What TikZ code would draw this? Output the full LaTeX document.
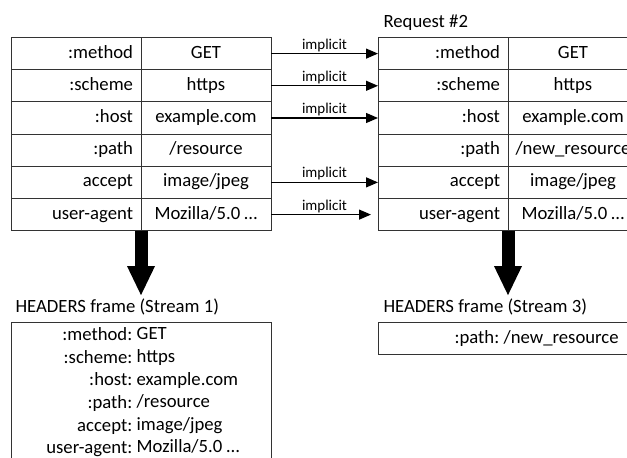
\documentclass[tikz,border=0pt]{standalone}
\usepackage{fontspec}
\setmainfont{Carlito}
\usepackage{tikz}
\usetikzlibrary{arrows.meta, positioning, calc}
\definecolor{LineGray}{HTML}{333333}

\begin{document}
\begin{tikzpicture}[
    x=1pt, y=1pt, >=Stealth, font=\fontsize{18.7}{22.6}\selectfont,
    keycell/.style={draw=LineGray, line width=0.9pt, outer sep=0pt, minimum height=32.2pt,
      inner xsep=8pt, text width=114pt, align=right, text height=13pt, text depth=4pt},
    valcell/.style={draw=LineGray, line width=0.9pt, outer sep=0pt, minimum height=32.2pt,
      minimum width=130pt, inner xsep=0pt, text height=13pt, text depth=4pt},
    implicit/.style={line width=1.2pt, -{Triangle[length=12pt,width=10pt]}},
    lbl/.style={above, font=\fontsize{15}{16}\selectfont, inner sep=1.5pt},
    bigarrow/.style={line width=13pt, -{Triangle[length=29pt,width=28pt,line width=0pt]}},
    framebox/.style={draw=LineGray, line width=0.9pt, minimum width=260pt, anchor=north west, outer sep=0pt},
  ]
  \useasboundingbox (0,0) rectangle (627,458);
  \clip (0,0) rectangle (627,458);
  % Request #1
  \node[keycell] (a1) at (76,404.4) {:method};
  \node[keycell, below=0pt of a1] (a2) {:scheme};
  \node[keycell, below=0pt of a2] (a3) {:host};
  \node[keycell, below=0pt of a3] (a4) {:path};
  \node[keycell, below=0pt of a4] (a5) {accept};
  \node[keycell, below=0pt of a5] (a6) {user-agent};
  \node[valcell, right=0pt of a1] (b1) {GET};
  \node[valcell, right=0pt of a2] (b2) {https};
  \node[valcell, right=0pt of a3] (b3) {example.com};
  \node[valcell, right=0pt of a4] (b4) {/resource};
  \node[valcell, right=0pt of a5] (b5) {image/jpeg};
  \node[valcell, right=0pt of a6] (b6) {Mozilla/5.0 …};
  % Request #2
  \node[anchor=base west] (r2) at (380,430) {Request \#2};
  \node[keycell] (c1) at (443,404.4) {:method};
  \node[keycell, below=0pt of c1] (c2) {:scheme};
  \node[keycell, below=0pt of c2] (c3) {:host};
  \node[keycell, below=0pt of c3] (c4) {:path};
  \node[keycell, below=0pt of c4] (c5) {accept};
  \node[keycell, below=0pt of c5] (c6) {user-agent};
  \node[valcell, right=0pt of c1] (d1) {GET};
  \node[valcell, right=0pt of c2] (d2) {https};
  \node[valcell, right=0pt of c3] (d3) {example.com};
  \node[valcell, right=0pt of c4] (d4) {/new\_resource};
  \node[valcell, right=0pt of c5] (d5) {image/jpeg};
  \node[valcell, right=0pt of c6] (d6) {Mozilla/5.0 …};
  % implicit headers
  \draw[implicit] (b1.east) -- node[lbl] {implicit} (c1.west);
  \draw[implicit] (b2.east) -- node[lbl] {implicit} (c2.west);
  \draw[implicit] (b3.east) -- node[lbl] {implicit} (c3.west);
  \draw[implicit] (b5.east) -- node[lbl] {implicit} (c5.west);
  \draw[implicit, shorten >=7pt] (b6.east) -- node[lbl] {implicit} (c6.west);
  % HEADERS frames
  \node[anchor=base west] (h1) at (12,145.7) {HEADERS frame (Stream 1)};
  \node[framebox, minimum height=160pt] (f1) at (11,136) {};
  \node[anchor=north east, align=right, inner sep=0pt] (k1) at (132.5,130.5)
    {:method:\\:scheme:\\:host:\\:path:\\accept:\\user-agent:};
  \node[anchor=north west, align=left, inner sep=0pt] (v1) at (136.5,130.5)
    {GET\\https\\example.com\\/resource\\image/jpeg\\Mozilla/5.0 …};
  \node[anchor=base west] (h3) at (380,145.7) {HEADERS frame (Stream 3)};
  \node[framebox, minimum height=32pt] (f3) at (378,136) {};
  \node[anchor=base east, inner sep=0pt] (k3) at (499.5,114.7) {:path:};
  \node[anchor=base west, inner sep=0pt] (v3) at (503.5,114.7) {/new\_resource};
  % encoding arrows
  \draw[bigarrow] (a6.south east) -- (a6.south east |- h1.north);
  \draw[bigarrow] (c6.south east) -- (c6.south east |- h3.north);
\end{tikzpicture}
\end{document}
